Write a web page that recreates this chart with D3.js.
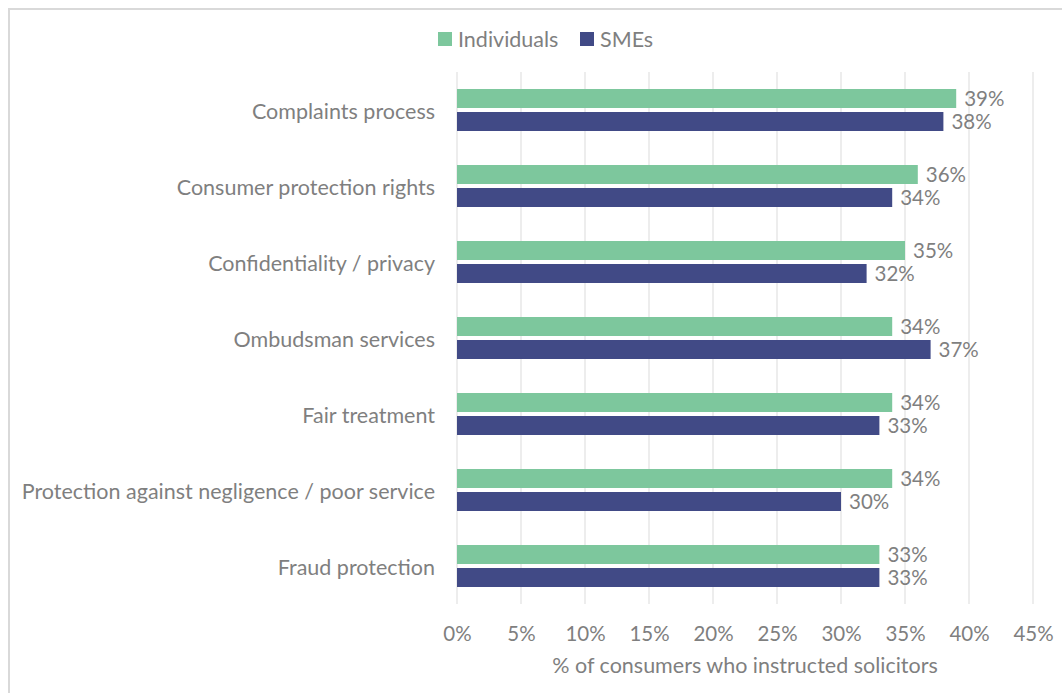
<!DOCTYPE html>
<html>
<head>
<meta charset="utf-8">
<script src="https://cdn.jsdelivr.net/npm/d3@7"></script>
<style>
  html, body { margin: 0; padding: 0; background: #fff; }
  svg text { font-family: Lato, "Open Sans", sans-serif; fill: #7f7f7f; }
</style>
</head>
<body>
<svg id="chart" width="1062" height="693"></svg>
<script>
const categories = [
  "Complaints process",
  "Consumer protection rights",
  "Confidentiality / privacy",
  "Ombudsman services",
  "Fair treatment",
  "Protection against negligence / poor service",
  "Fraud protection"
];
const individuals = [39, 36, 35, 34, 34, 34, 33];
const smes = [38, 34, 32, 37, 33, 30, 33];
const seriesNames = ["Individuals", "SMEs"];
const seriesColors = ["#7dc79d", "#414a86"];
const xTicks = [0, 5, 10, 15, 20, 25, 30, 35, 40, 45];

const svg = d3.select("#chart");
const W = 1062, H = 693;
const margin = { left: 457, right: 29, top: 72, bottom: 89 };
const fs = 21.5;

// outer frame
svg.append("rect")
  .attr("x", 9).attr("y", 9)
  .attr("width", W + 20).attr("height", H + 20)
  .attr("fill", "none").attr("stroke", "#d9d9d9").attr("stroke-width", 2);

const x = d3.scaleLinear().domain([0, 45]).range([margin.left, W - margin.right]);
const y = d3.scaleBand().domain(categories).range([margin.top, H - margin.bottom]).paddingInner(0).paddingOuter(0);
const barH = 19, gap = 4;

// gridlines
const g = svg.append("g");
g.selectAll("line.grid").data(xTicks).join("line")
  .attr("class", "grid")
  .attr("x1", d => x(d)).attr("x2", d => x(d))
  .attr("y1", margin.top).attr("y2", H - margin.bottom)
  .attr("stroke", "#e3e3e3").attr("stroke-width", 1.3);

// x axis labels
const xAxis = d3.axisBottom(x).tickValues(xTicks).tickFormat(d => d + "%").tickSize(0).tickPadding(0);
const ax = svg.append("g").attr("transform", `translate(0,${H - margin.bottom + 30})`).call(xAxis);
ax.select(".domain").remove();
ax.selectAll("text").attr("font-size", 20.5).attr("fill", "#7f7f7f").attr("dy", "0.35em")
  .style("font-family", "Lato, 'Open Sans', sans-serif");

svg.append("text")
  .attr("x", 745).attr("y", 673)
  .attr("text-anchor", "middle").attr("font-size", fs)
  .text("% of consumers who instructed solicitors");

// category labels
svg.selectAll("text.cat").data(categories).join("text")
  .attr("class", "cat")
  .attr("x", margin.left - 22)
  .attr("y", d => y(d) + y.bandwidth() / 2 + 1)
  .attr("dy", "0.35em")
  .attr("text-anchor", "end").attr("font-size", fs)
  .text(d => d);

// bars
const series = [individuals, smes];
series.forEach((vals, si) => {
  const offset = si === 0 ? -(barH + gap / 2) : gap / 2;
  svg.selectAll(`rect.bar${si}`).data(vals).join("rect")
    .attr("class", `bar${si}`)
    .attr("x", x(0))
    .attr("y", (d, i) => y(categories[i]) + y.bandwidth() / 2 + offset)
    .attr("width", d => x(d) - x(0))
    .attr("height", barH)
    .attr("fill", seriesColors[si]);
  svg.selectAll(`text.val${si}`).data(vals).join("text")
    .attr("class", `val${si}`)
    .attr("x", d => x(d) + 8)
    .attr("y", (d, i) => y(categories[i]) + y.bandwidth() / 2 + offset + barH / 2)
    .attr("dy", "0.35em")
    .attr("font-size", 20.5)
    .text(d => d + "%");
});

// legend
const legend = svg.append("g");
const legendX = [438, 580];
seriesNames.forEach((name, i) => {
  legend.append("rect")
    .attr("x", legendX[i]).attr("y", 32).attr("width", 14).attr("height", 14)
    .attr("fill", seriesColors[i]);
  legend.append("text")
    .attr("x", legendX[i] + 20).attr("y", 39).attr("dy", "0.35em")
    .attr("font-size", fs)
    .text(name);
});
</script>
</body>
</html>
